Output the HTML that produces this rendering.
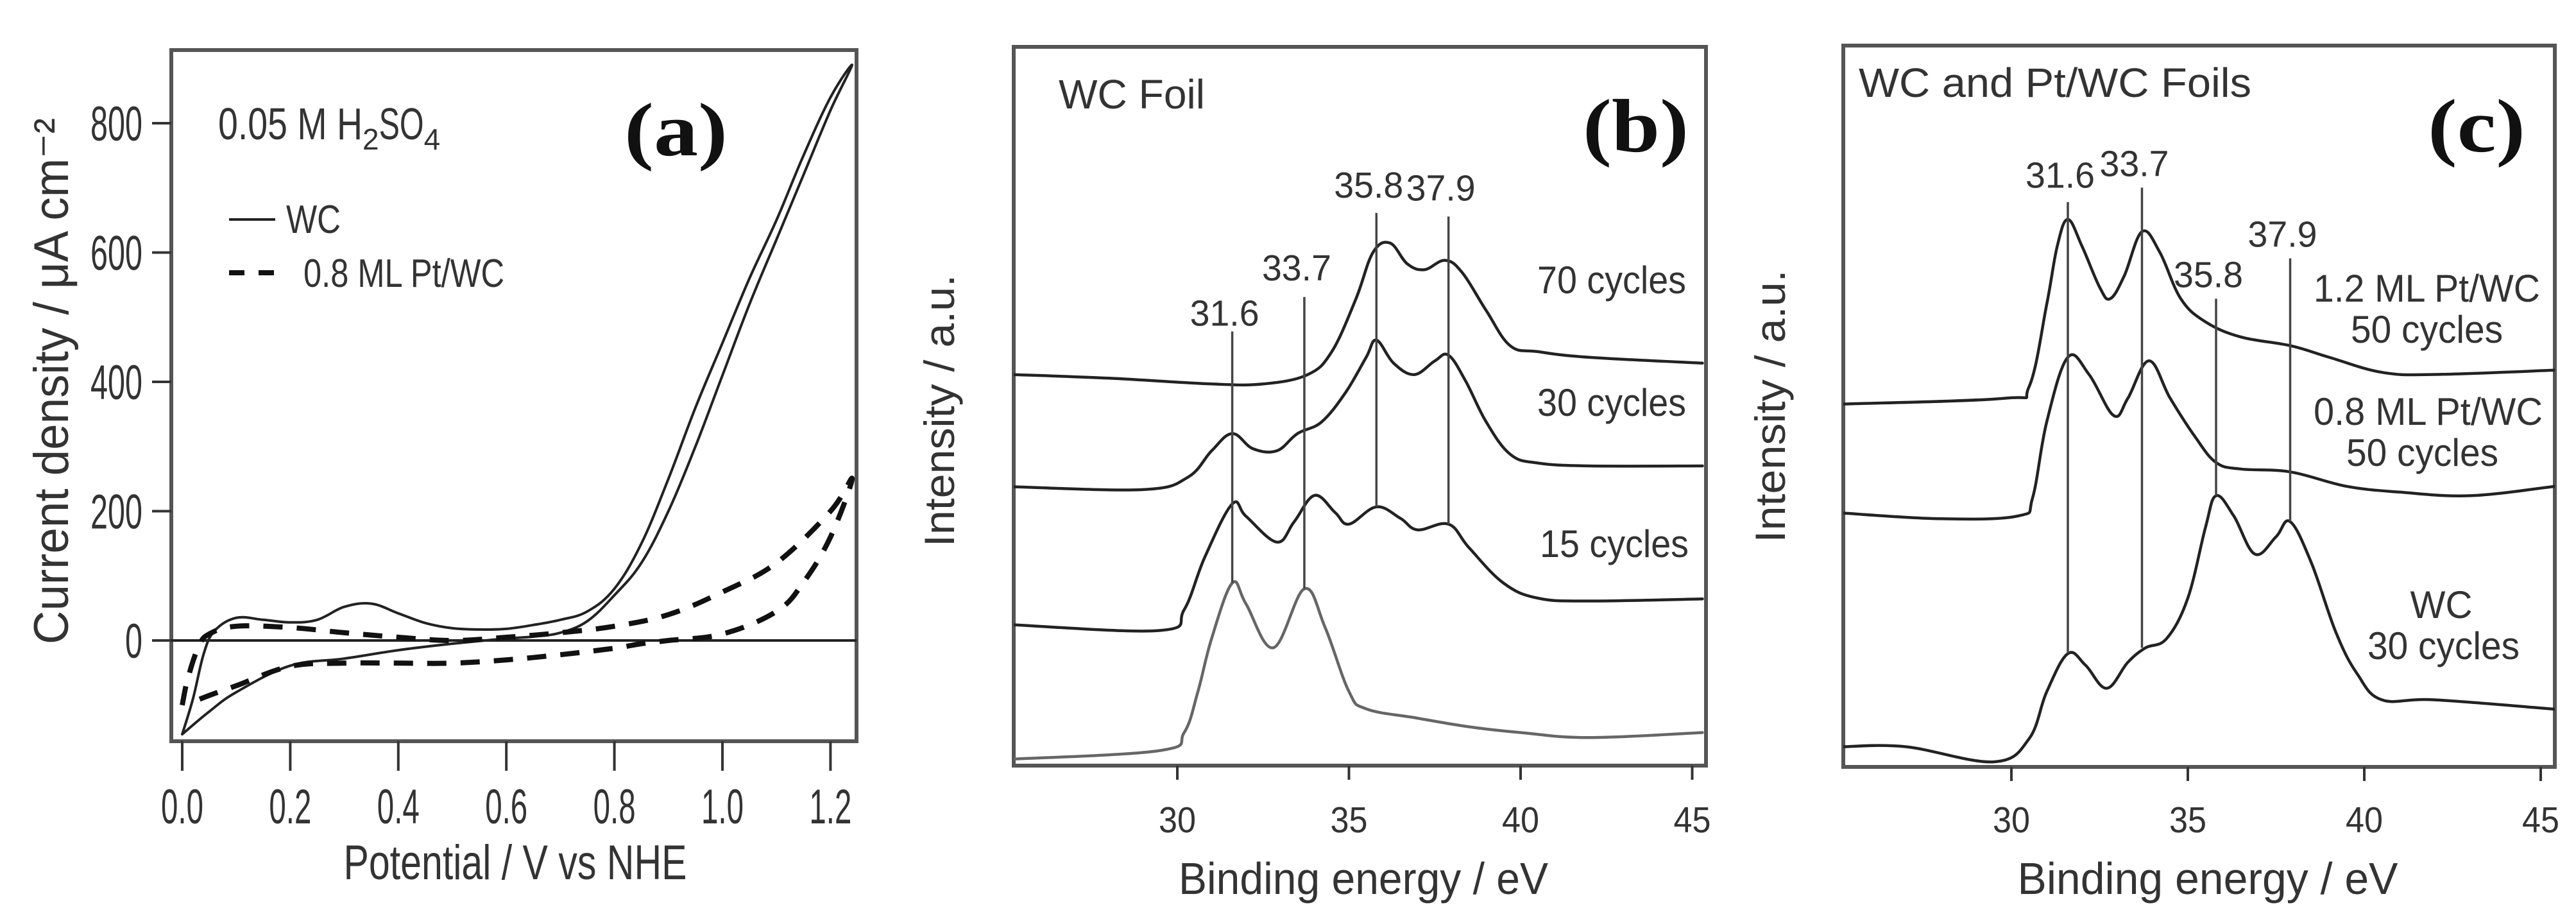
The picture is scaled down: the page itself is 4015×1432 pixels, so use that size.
<!DOCTYPE html>
<html><head><meta charset="utf-8">
<style>
html,body{margin:0;padding:0;background:#fff;}
svg{display:block;}
text{font-family:"Liberation Sans",sans-serif;fill:#333;}
.serif{font-family:"Liberation Serif",serif;font-weight:bold;fill:#111;}
</style></head>
<body>
<svg id="fig" width="4015" height="1432" viewBox="0 0 4015 1432" xmlns="http://www.w3.org/2000/svg">
<rect width="4015" height="1432" fill="#fff"/>
<g id="pa"></g>
<g id="pb"></g>
<g id="pc"></g>
</svg>
<script>
// ---------- Panel (a) data ----------
const aXTicks = [0.0, 0.2, 0.4, 0.6, 0.8, 1.0, 1.2];
const aXTickLabels = ["0.0","0.2","0.4","0.6","0.8","1.0","1.2"];
const aYTicks = [0, 200, 400, 600, 800];
const aYTickLabels = ["0","200","400","600","800"];
const wcV = [0,0.02,0.04,0.06,0.1,0.15,0.2,0.25,0.3,0.35,0.4,0.45,0.5,0.55,0.6,0.65,0.7,0.75,0.8,0.85,0.9,0.95,1.0,1.05,1.1,1.15,1.2,1.24,
             1.2,1.15,1.1,1.05,1.0,0.95,0.9,0.85,0.8,0.75,0.7,0.65,0.6,0.5,0.4,0.3,0.2,0.1,0.05,0];
const wcI = [-145,-90,-20,15,35,32,28,32,52,57,42,27,19,17,18,24,32,45,80,150,250,360,460,560,650,750,840,890,
             820,720,620,520,410,300,200,120,70,30,12,6,3,-5,-15,-28,-39,-80,-110,-145];
const ptV = [0,0.01,0.03,0.05,0.1,0.2,0.3,0.4,0.5,0.6,0.7,0.8,0.9,1.0,1.1,1.2,1.24,
             1.2,1.15,1.1,1.0,0.9,0.85,0.8,0.7,0.6,0.5,0.4,0.3,0.2,0.1,0.05,0.02];
const ptI = [-100,-60,-10,10,22,20,12,5,0,5,12,22,40,75,120,200,250,
             160,90,45,10,0,-5,-12,-22,-30,-35,-35,-35,-40,-70,-85,-95];

// ---------- Panel (b) data ----------
const bXTicks = [30,35,40,45];
const bXTickLabels = ["30","35","40","45"];
const bRefE = [25.2,29.5,30.2,30.6,31,31.6,32,32.8,33.7,34.3,35,35.5,37,38.5,40,42,45.3];
const bRefI = [0.9,2.1,4.6,10.3,17.7,25.4,22.5,16.4,24.6,19.3,10.3,7.9,6.6,5.4,4.6,3.9,4.6];
const b15E = [25.2,29.5,30.2,30.8,31.6,32,32.9,33.4,34,34.6,35,35.8,36.5,37,37.9,38.5,39.5,40.5,42,45.3];
const b15I = [19.6,18.8,21.7,29.0,36.4,34.7,31.1,33.9,37.6,35.2,33.6,36.0,34.4,32.8,33.6,30.3,25.4,23.3,22.9,23.2];
const b30E = [25.2,29,30.3,31,31.6,32.2,32.9,33.5,34.2,34.9,35.5,35.8,36.3,36.9,37.5,37.9,38.4,39,39.7,40.5,42,45.3];
const b30I = [38.8,38.4,40.1,43.8,46.2,44.1,43.8,46.2,47.8,51.9,56.8,59.2,56.0,54.4,56.3,57.1,53.5,47.8,43.3,42.1,41.7,41.7];
const b70E = [25.2,28,31,32.5,33.8,34.5,35.2,35.7,36.2,36.7,37.2,37.8,38.3,39,39.7,40.5,42,45.3];
const b70I = [54.4,53.9,53.1,53.1,54.4,57.6,64.9,71.4,72.7,69.8,69.0,70.3,68.6,63.3,58.4,57.6,56.8,56.0];
const bPeakE = [31.6,33.7,35.8,37.9];
const bPeakTop = [60.4,65.2,76.9,76.4];
const bPeakBot = [25.4,24.6,36.0,33.6];
const bPeakLabels = ["31.6","33.7","35.8","37.9"];
const bLabelTop = [61.2,67.5,79.0,78.6];

// ---------- Panel (c) data ----------
const cXTicks = [30,35,40,45];
const cXTickLabels = ["30","35","40","45"];
const c12E = [25.2,29.8,30.5,31.0,31.3,31.6,32.0,32.5,32.8,33.2,33.7,34.2,34.8,35.5,36.5,37.9,39,40.5,42,45.4];
const c12I = [50.3,51.1,52.7,64.1,72.2,75.9,72.2,66.5,64.9,68.1,74.2,71.4,64.9,61.7,59.6,58.4,56.8,54.7,54.4,55.0];
const c08E = [25.2,28,30.2,30.6,31.0,31.6,32.2,32.9,33.3,33.9,34.5,35.2,35.8,36.5,37.9,39.5,41,43,45.4];
const c08I = [35.2,34.4,34.8,37.3,47.8,56.8,54.4,48.7,51.1,56.3,51.1,45.8,42.2,41.3,40.9,38.9,38.1,37.6,38.9];
const cWCE = [25.2,27,29.5,30.5,31.0,31.6,32.1,32.7,33.3,33.8,34.4,35.0,35.5,35.8,36.3,36.9,37.5,37.9,38.5,39.2,39.8,40.5,42,45.4];
const cWCI = [2.8,2.8,0.7,3.9,10.4,15.7,14.1,10.9,14.5,16.5,17.8,23.4,33.2,37.6,34.8,29.5,31.9,34.0,28.3,18.6,12.9,9.3,9.3,8.0];
const cPeakE = [31.6,33.7,35.8,37.9];
const cPeakTop = [78.3,80.3,64.9,70.5];
const cPeakBot = [15.7,16.5,37.6,34.0];
const cPeakLabels = ["31.6","33.7","35.8","37.9"];
const cLabelTop = [80.3,81.9,66.5,72.1];

const NS = "http://www.w3.org/2000/svg";
function mk(parent, tag, attrs){
  const e = document.createElementNS(NS, tag);
  for (const k in attrs) e.setAttribute(k, attrs[k]);
  parent.appendChild(e);
  return e;
}
function txt(parent, s, x, y, size, anchor, len, cls){
  const t = mk(parent, "text", {x:x, y:y, "font-size":size, "text-anchor":anchor||"start"});
  if (len){ t.setAttribute("textLength", len); t.setAttribute("lengthAdjust","spacingAndGlyphs"); }
  if (cls) t.setAttribute("class", cls);
  t.textContent = s;
  return t;
}
// smooth path through points (Catmull-Rom -> cubic Bezier)
function poly(parent, xs, ys, fx, fy, attrs){
  const P = xs.map((x,i)=>[fx(x), fy(ys[i])]);
  let d = "M" + P[0][0].toFixed(1) + "," + P[0][1].toFixed(1);
  const t = 0.18;
  for (let i=0;i<P.length-1;i++){
    const p0 = P[Math.max(0,i-1)], p1 = P[i], p2 = P[i+1], p3 = P[Math.min(P.length-1,i+2)];
    const c1 = [p1[0]+(p2[0]-p0[0])*t, p1[1]+(p2[1]-p0[1])*t];
    const c2 = [p2[0]-(p3[0]-p1[0])*t, p2[1]-(p3[1]-p1[1])*t];
    d += "C" + c1[0].toFixed(1)+","+c1[1].toFixed(1)+" "+c2[0].toFixed(1)+","+c2[1].toFixed(1)+" "+p2[0].toFixed(1)+","+p2[1].toFixed(1);
  }
  return mk(parent, "path", Object.assign({d:d, fill:"none", "stroke-linejoin":"round", "stroke-linecap":"round"}, attrs));
}

// ===== Panel (a) =====
(function(){
  const g = document.getElementById("pa");
  const L=267, R=1335, T=78, B=1155;
  const ax = v => 284 + v*842;
  const ay = u => 998 - u*1.0075;
  const clip = mk(g,"clipPath",{id:"clipA"});
  mk(clip,"rect",{x:L,y:T,width:R-L,height:B-T});
  const box = mk(g,"rect",{x:L,y:T,width:R-L,height:B-T,fill:"none",stroke:"#555","stroke-width":6});
  
  
  const zl = mk(g,"line",{x1:L,x2:R,y1:ay(0),y2:ay(0),stroke:"#222","stroke-width":4});
  
  
  aXTicks.forEach((v,i)=>{
    const tk = mk(g,"line",{x1:ax(v),x2:ax(v),y1:B,y2:B+46,stroke:"#333","stroke-width":4});
    
    
    const t = txt(g, aXTickLabels[i], ax(v), 1283, 76, "middle", 66);
    
    
  });
  aYTicks.forEach((u,i)=>{
    const tk = mk(g,"line",{x1:L-30,x2:L,y1:ay(u),y2:ay(u),stroke:"#333","stroke-width":4});
    
    
    const t = txt(g, aYTickLabels[i], 222, ay(u)+27, 76, "end", aYTickLabels[i].length*27);
    
    
  });
  const gc = mk(g,"g",{"clip-path":"url(#clipA)"});
  const s1 = poly(gc, wcV, wcI, ax, ay, {stroke:"#222","stroke-width":4});
  
  
  const s2 = poly(gc, ptV, ptI, ax, ay, {stroke:"#111","stroke-width":8,"stroke-dasharray":"30 22","stroke-linecap":"butt"});
  
  
  const xt = txt(g,"Potential / V vs NHE",803,1370,76,"middle",535);
  
  
  const yt = txt(g,"Current density / μA cm⁻²",0,0,76,"middle",820);
  yt.setAttribute("transform","translate(106,594) rotate(-90)");
  
  
  const cond = mk(g,"text",{x:340,y:217,"font-size":70});
  
  
  cond.innerHTML = '<tspan textLength="225" lengthAdjust="spacingAndGlyphs">0.05 M H</tspan><tspan dy="16" font-size="46">2</tspan><tspan dy="-16" textLength="70" lengthAdjust="spacingAndGlyphs">SO</tspan><tspan dy="16" font-size="46">4</tspan>';
  const pl = txt(g,"(a)",973,242,118,"start",161,"serif");
  
  
  const l1 = mk(g,"line",{x1:357,x2:429,y1:342,y2:342,stroke:"#222","stroke-width":4});
  
  
  const lt1 = txt(g,"WC",446,363,62,"start",85);
  
  
  const l2 = mk(g,"line",{x1:357,x2:429,y1:425,y2:425,stroke:"#111","stroke-width":8,"stroke-dasharray":"24 22"});
  
  
  const lt2 = txt(g,"0.8 ML Pt/WC",473,447,62,"start",313);
  
  
})();

// ===== Spectra panels =====
function spectra(gid, cfg){
  const g = document.getElementById(gid);
  const {L,R,T,B,x30,k,vk} = cfg;
  const sx = e => x30 + (e-30)*k;
  const sy = v => B - v*vk;
  const clip = mk(g,"clipPath",{id:"clip"+gid});
  mk(clip,"rect",{x:L,y:T,width:R-L,height:B-T});
  const box = mk(g,"rect",{x:L,y:T,width:R-L,height:B-T,fill:"none",stroke:"#555","stroke-width":6});
  
  
  cfg.ticks.forEach((e,i)=>{
    const tk = mk(g,"line",{x1:sx(e),x2:sx(e),y1:B,y2:B+22,stroke:"#333","stroke-width":4});
    
    
    const t = txt(g, cfg.tickLabels[i], sx(e), 1297, 57, "middle", 58);
    
    
  });
  const gc = mk(g,"g",{"clip-path":"url(#clip"+gid+")"});
  cfg.series.forEach(s=>{
    const p = poly(gc, s.e, s.i, sx, sy, {stroke:s.c,"stroke-width":4.5});
    
    
  });
  cfg.peakE.forEach((e,i)=>{
    const ln = mk(g,"line",{x1:sx(e),x2:sx(e),y1:sy(cfg.peakTop[i]),y2:sy(cfg.peakBot[i]),stroke:"#444","stroke-width":3.5});
    
    
    const t = txt(g, cfg.peakLabels[i], sx(e)-12, sy(cfg.labelTop[i]), 57, "middle", 108);
    
    
  });
  const xt = txt(g,"Binding energy / eV",cfg.titleX,1393,70,"middle",cfg.titleLen);
  
  
  const yt = txt(g,"Intensity / a.u.",0,0,66,"middle",cfg.ylabLen);
  yt.setAttribute("transform","translate("+cfg.ylabX+","+cfg.ylabY+") rotate(-90)");
  
  
  cfg.notes.forEach(n=>{
    const t = txt(g, n[0], n[1], n[2], n[3], n[4], n[5]);
    
    
  });
  const pl = txt(g, cfg.panelLabel, cfg.plX, cfg.plY, 118, "start", cfg.plLen, "serif");
  
  
}

spectra("pb",{L:1580,R:2659,T:73,B:1193,x30:1835,k:53.5,vk:11.2,
  ticks:bXTicks,tickLabels:bXTickLabels,
  series:[{e:bRefE,i:bRefI,c:"#666",name:"wc-reference-spectrum"},
          {e:b15E,i:b15I,c:"#222",name:"15-cycles-spectrum"},
          {e:b30E,i:b30I,c:"#222",name:"30-cycles-spectrum"},
          {e:b70E,i:b70I,c:"#222",name:"70-cycles-spectrum"}],
  peakE:bPeakE,peakTop:bPeakTop,peakBot:bPeakBot,peakLabels:bPeakLabels,labelTop:bLabelTop,
  titleX:2125,titleLen:576,ylabX:1487,ylabY:640,ylabLen:424,
  notes:[["WC Foil",1650,169,64,"start",228,"title-wc-foil"],
         ["70 cycles",2396,457,60,"start",232,"label-70-cycles"],
         ["30 cycles",2396,648,60,"start",232,"label-30-cycles"],
         ["15 cycles",2400,868,60,"start",232,"label-15-cycles"]],
  panelLabel:"(b)",plX:2467,plY:236,plLen:165});

spectra("pc",{L:2873,R:3982,T:71,B:1195,x30:3135,k:55,vk:11.24,
  ticks:cXTicks,tickLabels:cXTickLabels,
  series:[{e:c12E,i:c12I,c:"#222",name:"1.2ml-pt-wc-spectrum"},
          {e:c08E,i:c08I,c:"#222",name:"0.8ml-pt-wc-spectrum"},
          {e:cWCE,i:cWCI,c:"#222",name:"wc-30-cycles-spectrum"}],
  peakE:cPeakE,peakTop:cPeakTop,peakBot:cPeakBot,peakLabels:cPeakLabels,labelTop:cLabelTop,
  titleX:3441,titleLen:593,ylabX:2782,ylabY:633,ylabLen:425,
  notes:[["WC and Pt/WC Foils",2897,151,64,"start",612,"title-wc-ptwc-foils"],
         ["1.2 ML Pt/WC",3606,470,60,"start",353,"label-1.2ml"],
         ["50 cycles",3664,534,60,"start",237,"label-1.2ml-cycles"],
         ["0.8 ML Pt/WC",3606,662,60,"start",357,"label-0.8ml"],
         ["50 cycles",3657,726,60,"start",237,"label-0.8ml-cycles"],
         ["WC",3805,963,60,"middle",97,"label-wc"],
         ["30 cycles",3690,1027,60,"start",237,"label-wc-cycles"]],
  panelLabel:"(c)",plX:3784,plY:236,plLen:152});
</script>
</body></html>
